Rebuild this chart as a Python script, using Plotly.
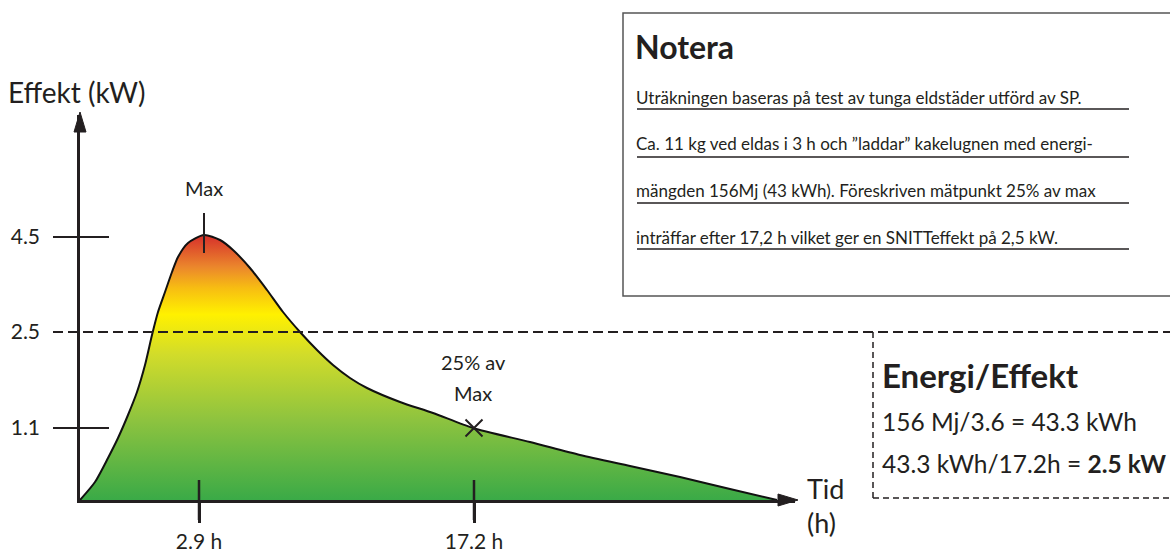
import plotly.graph_objects as go

# Schematic drawing units (axes in the original are not to scale): 1 unit = 10 px
curve_x = [0, 1.5, 2.8, 3.8, 4.8, 5.7, 6.5, 7.2, 7.8, 8.5, 9.2, 9.8, 10.8, 12.4,
           14, 15.3, 17, 18.7, 20.3, 22, 23.7, 25.3, 27, 28.7, 32, 35.3, 39.3,
           45, 50, 55, 60, 65, 69.7]
curve_y = [0, 1.8, 4.2, 6.2, 8.5, 10.8, 13.5, 16.5, 18.8, 20.8, 22.8, 24.3, 25.7, 26.5,
           26, 25, 23.2, 21, 18.8, 16.8, 15, 13.5, 12.2, 11.2, 9.8, 8.7, 7.2,
           5.8, 4.5, 3.4, 2.3, 1.1, 0]

y_tick_vals = [7.2, 16.8, 26.3]
y_tick_text = ["1.1", "2.5", "4.5"]
x_tick_vals = [11.9, 39.4]
x_tick_text = ["2.9 h", "17.2 h"]
mark_x = [39.4]   # 25% av Max
mark_y = [7.2]
avg_level = 16.8  # 2.5 kW line

note_lines = [
    "Uträkningen baseras på test av tunga eldstäder utförd av SP.",
    "Ca. 11 kg ved eldas i 3 h och ”laddar” kakelugnen med energi-",
    "mängden 156Mj (43 kWh). Föreskriven mätpunkt 25% av max",
    "inträffar efter 17,2 h vilket ger en SNITTeffekt på 2,5 kW.",
]
energy_lines = ["156 Mj/3.6 = 43.3 kWh", "43.3 kWh/17.2h = <b>2.5 kW</b>"]

FONT = "Lato"
INK = "#231f20"
W, H = 1170, 553
ML, MR, MT, MB = 80, 375, 115, 53
PW, PH = W - ML - MR, H - MT - MB


def px(x):
    return (x - ML) / PW


def py(y):
    return (H - MB - y) / PH


fig = go.Figure()
fig.add_trace(go.Scatter(
    x=curve_x, y=curve_y, mode="lines", fill="tozeroy",
    line=dict(color="#111", width=2, shape="spline", smoothing=0.7),
    fillgradient=dict(type="vertical", start=0, stop=max(curve_y), colorscale=[
        [0.0, "#3aaa47"], [0.3, "#8dc33f"], [0.55, "#d2dc2a"], [0.70, "#fff100"],
        [0.80, "#f7bd12"], [0.88, "#eb862c"], [1.0, "#d62f2b"]]),
    hoverinfo="skip", showlegend=False))
fig.add_trace(go.Scatter(
    x=mark_x, y=mark_y, mode="markers",
    marker=dict(symbol="x-thin", size=17, line=dict(color=INK, width=2)),
    hoverinfo="skip", showlegend=False))

shapes = []
# y tick crosses
for v, t in zip(y_tick_vals, y_tick_text):
    if v == avg_level:
        shapes.append(dict(type="line", xref="paper", yref="y", x0=px(53), x1=px(1180), y0=v, y1=v,
                           line=dict(color=INK, width=2, dash="10px,5px")))
    else:
        shapes.append(dict(type="line", xref="paper", yref="y", x0=px(53), x1=px(109), y0=v, y1=v,
                           line=dict(color=INK, width=2)))
# x tick crosses
for v in x_tick_vals:
    shapes.append(dict(type="line", xref="x", yref="paper", x0=v, x1=v, y0=py(520), y1=py(480),
                       line=dict(color=INK, width=2.5)))
# Max pointer
i_max = curve_y.index(max(curve_y))
shapes.append(dict(type="line", xref="x", yref="y", x0=curve_x[i_max], x1=curve_x[i_max],
                   y0=curve_y[i_max] - 1.8, y1=curve_y[i_max] + 2.2, line=dict(color=INK, width=2)))
# arrowheads
shapes.append(dict(type="path", xref="paper", yref="paper",
                   path=f"M {px(74)},{py(132)} L {px(80)},{py(112)} L {px(86)},{py(132)} Z",
                   fillcolor=INK, line=dict(color=INK, width=1)))
shapes.append(dict(type="path", xref="paper", yref="paper",
                   path=f"M {px(778)},{py(494)} L {px(798)},{py(500)} L {px(778)},{py(506)} Z",
                   fillcolor=INK, line=dict(color=INK, width=1)))
# Notera box
shapes.append(dict(type="rect", xref="paper", yref="paper", x0=px(623), x1=px(1180), y0=py(296), y1=py(13),
                   line=dict(color="#555", width=1.5)))
for yy in [109, 157, 203, 249]:
    shapes.append(dict(type="line", xref="paper", yref="paper", x0=px(637), x1=px(1129), y0=py(yy), y1=py(yy),
                       line=dict(color=INK, width=1.5)))
# Energi box (dashed)
shapes.append(dict(type="line", xref="paper", yref="paper", x0=px(873), x1=px(873), y0=py(332), y1=py(498),
                   line=dict(color=INK, width=1.5, dash="6px,4px")))
shapes.append(dict(type="line", xref="paper", yref="paper", x0=px(873), x1=px(1180), y0=py(498), y1=py(498),
                   line=dict(color=INK, width=1.5, dash="6px,4px")))

ann = []


def text(x, y, s, size, anchor="left", bold=False):
    ann.append(dict(xref="paper", yref="paper", x=px(x), y=py(y), text=f"<b>{s}</b>" if bold else s,
                    showarrow=False, xanchor=anchor, yanchor="middle",
                    font=dict(family=FONT, size=size, color=INK)))


text(6, 92, "Effekt (kW)", 28)
text(curve_x[i_max] * 10 + ML, 188, "Max", 20, "center")
text(473, 362, "25% av", 20, "center")
text(473, 393, "Max", 20, "center")
text(805, 488, "Tid", 27)
text(805, 522, "(h)", 27)
text(633, 46, "Notera", 32, bold=True)
for yy, s in zip([97, 143, 190, 237], note_lines):
    text(634, yy, s, 17)
text(880, 375, "Energi/Effekt", 33, bold=True)
for yy, s in zip([421, 463], energy_lines):
    text(880, yy, s, 24.5)

fig.update_layout(
    width=W, height=H, margin=dict(l=ML, r=MR, t=MT, b=MB, pad=0, autoexpand=False),
    paper_bgcolor="white", plot_bgcolor="white",
    xaxis=dict(range=[0, PW / 10], showline=True, linecolor=INK, linewidth=2.5, showgrid=False,
               zeroline=False, tickvals=x_tick_vals, ticktext=x_tick_text, ticks="outside", ticklen=20,
               tickwidth=2.5, tickcolor=INK, ticklabelstandoff=1,
               tickfont=dict(family=FONT, size=21, color=INK)),
    yaxis=dict(range=[0, PH / 10], showline=True, linecolor=INK, linewidth=2.5, showgrid=False,
               zeroline=False, tickvals=y_tick_vals, ticktext=y_tick_text, ticks="outside", ticklen=27,
               tickcolor="rgba(0,0,0,0)", ticklabelstandoff=6,
               tickfont=dict(family=FONT, size=21, color=INK)),
    shapes=shapes, annotations=ann,
)
fig.write_html("out.html", config={"displayModeBar": False},
               post_script="document.body.style.margin='0';document.body.style.overflow='hidden';")
